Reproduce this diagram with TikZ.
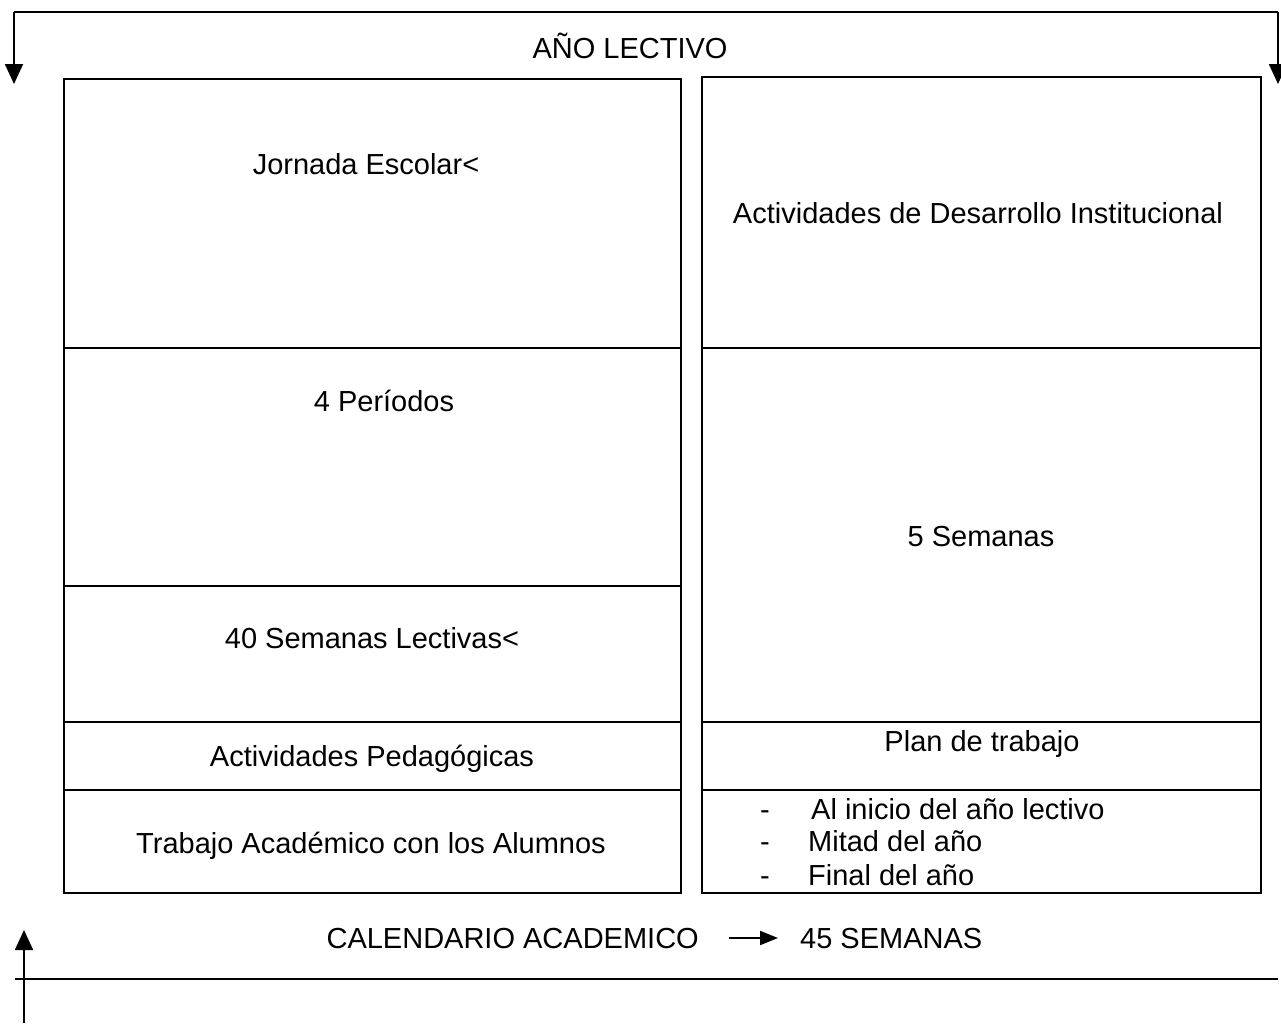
\documentclass[tikz,border=0pt]{standalone}
\usepackage{fontspec}
\setmainfont{Liberation Sans}
\usetikzlibrary{arrows.meta}
\begin{document}
\begin{tikzpicture}[x=1pt,y=-1pt,
  txt/.style={inner sep=0pt,anchor=base,font=\fontsize{29}{34}\selectfont},
  txtw/.style={inner sep=0pt,anchor=base west,font=\fontsize{29}{34}\selectfont},
  boxline/.style={line width=2pt},
  bracket/.style={line width=1.8pt},
  bigtip/.style={-{Triangle[width=18pt,length=20pt]}}
  ]
\useasboundingbox (0,0) rectangle (1281,1023);
% coordinates for bracket and bottom line
\coordinate (tl) at (14,12);
\coordinate (tr) at (1278,12);
\coordinate (tlend) at (14,84);
\coordinate (trend) at (1278,84);
\coordinate (bstart) at (24,1023);
\coordinate (bend) at (24,930);
\coordinate (hl) at (15,979);
\coordinate (hr) at (1278,979);
% top bracket
\draw[bracket] (tl) -- (tr);
\draw[bracket,bigtip] (tl) -- (tlend);
\draw[bracket,bigtip] (tr) -- (trend);
% bottom
\draw[bracket,bigtip] (bstart) -- (bend);
\draw[bracket] (hl) -- (hr);
% left column
\draw[boxline] (64,79) rectangle (681,893);
\draw[boxline] (64,348) -- (681,348);
\draw[boxline] (64,586) -- (681,586);
\draw[boxline] (64,722) -- (681,722);
\draw[boxline] (64,790) -- (681,790);
% right column
\draw[boxline] (702,77) rectangle (1261,893);
\draw[boxline] (702,348) -- (1261,348);
\draw[boxline] (702,722) -- (1261,722);
\draw[boxline] (702,790) -- (1261,790);
% texts
\node[txt] (anio) at (630,58) {AÑO LECTIVO};
\node[txt] (jornada) at (366,174) {Jornada Escolar<};
\node[txt] (adi) at (978,223) {Actividades de Desarrollo Institucional};
\node[txt] (periodos) at (384,411) {4 Períodos};
\node[txt] (cinco) at (981,546) {5 Semanas};
\node[txt] (cuarenta) at (372,648) {40 Semanas Lectivas<};
\node[txt] (pedag) at (372,766) {Actividades Pedagógicas};
\node[txt] (plan) at (982,751) {Plan de trabajo};
\node[txt] (trabajo) at (371,853) {Trabajo Académico con los Alumnos};
\node[txtw] (d1) at (760,819) {-};
\node[txtw] (d2) at (760,851) {-};
\node[txtw] (d3) at (760,885) {-};
\node[txtw] (l1) at (811,819) {Al inicio del año lectivo};
\node[txtw] (l2) at (808,851) {Mitad del año};
\node[txtw] (l3) at (808,885) {Final del año};
\node[txt,anchor=base east] (cal) at (699,948) {CALENDARIO ACADEMICO};
\node[txtw] (sem) at (800,948) {45 SEMANAS};
\coordinate (a1) at (729,938);
\coordinate (a2) at (778,938);
\draw[line width=2pt,-{Triangle[width=14pt,length=18pt]}] (a1) -- (a2);
\end{tikzpicture}
\end{document}
